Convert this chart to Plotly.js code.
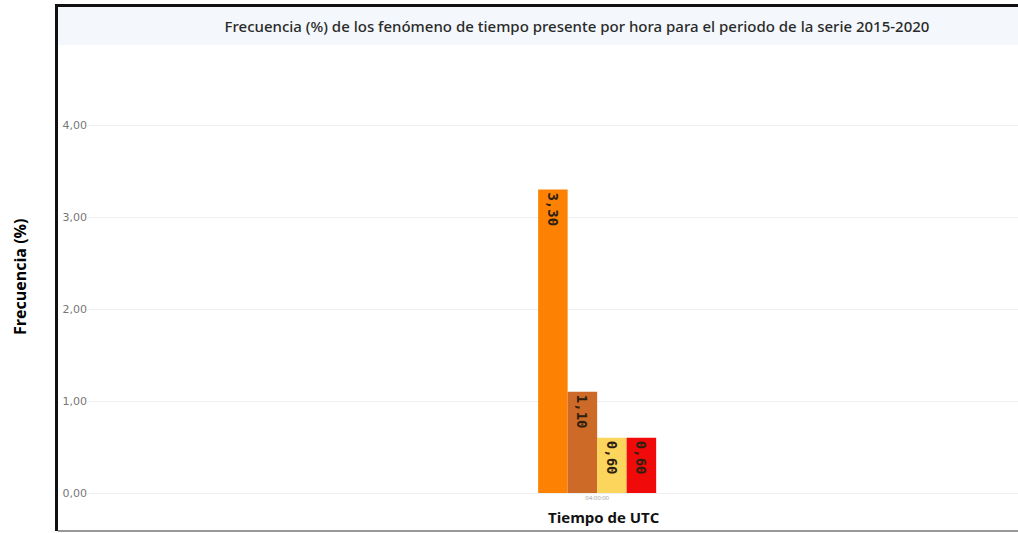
<!DOCTYPE html>
<html>
<head>
<meta charset="utf-8">
<script src="https://cdn.plot.ly/plotly-3.0.1.min.js"></script>
<style>
html,body{margin:0;padding:0;background:#fff;overflow:hidden;}
#chart{width:1018px;height:533px;}
</style>
</head>
<body>
<div id="chart"></div>
<script>
var categories = ["04:00:00"];
var seriesNames = ["Fenómeno 1", "Fenómeno 2", "Fenómeno 3", "Fenómeno 4"];
var seriesValues = [[3.30], [1.10], [0.60], [0.60]];
var seriesColors = ["#fd8204", "#cd6a27", "#fcd65c", "#f00a0a"];
var yTicks = [0, 1, 2, 3, 4];

var traces = seriesNames.map(function(n, i){
  return {
    type: "bar",
    name: n,
    x: categories,
    y: seriesValues[i],
    marker: {color: seriesColors[i]},
    texttemplate: "%{y:.2f}",
    textposition: "inside",
    insidetextanchor: "end",
    textangle: 90,
    insidetextfont: {family: "DejaVu Sans Mono, monospace", size: 14, color: "#2e2010", weight: "bold"},
    hoverinfo: "x+y+name",
    showlegend: false
  };
});

// margins in px
var L = 88, R = 0, T = 51, B = 40, W = 1018, H = 533;
var pw = W - L - R, ph = H - T - B;
function px(x){ return (x - L) / pw; }
function py(y){ return (H - B - y) / ph; }

var layout = {
  width: W, height: H,
  margin: {l: L, r: R, t: T, b: B, pad: 0},
  paper_bgcolor: "#ffffff",
  plot_bgcolor: "rgba(0,0,0,0)",
  separators: ",.",
  barmode: "group",
  bargap: 0.5,
  bargroupgap: 0,
  font: {family: "Open Sans, sans-serif", color: "#555"},
  title: {
    text: "Frecuencia (%) de los fenómeno de tiempo presente por hora para el periodo de la serie 2015-2020",
    font: {family: "Noto Sans, sans-serif", size: 15, color: "#2a2a2a", weight: 500},
    x: px(577), xref: "paper", xanchor: "center",
    y: 1 - 27 / H, yanchor: "middle"
  },
  xaxis: {
    type: "category",
    range: [-2.157, 1.783],
    showgrid: false,
    zeroline: false,
    showline: false,
    ticks: "",
    tickfont: {size: 6, color: "#999"},
    ticklabelstandoff: 0,
    fixedrange: true
  },
  yaxis: {
    range: [0, ph / 92],
    tickvals: yTicks,
    tickformat: ".2f",
    tickfont: {family: "DejaVu Sans, sans-serif", size: 11, color: "#777"},
    showgrid: true,
    gridcolor: "#efefef",
    gridwidth: 1,
    zeroline: true,
    zerolinecolor: "#efefef",
    ticks: "",
    showline: false,
    fixedrange: true
  },
  shapes: [
    {type: "rect", xref: "paper", yref: "paper", x0: px(58), x1: px(1018), y0: py(45), y1: py(7),
     fillcolor: "#f4f8fc", line: {width: 0}, layer: "below"},
    {type: "line", xref: "paper", yref: "paper", x0: px(56.5), x1: px(56.5), y0: py(531), y1: py(4),
     line: {color: "#111", width: 3}},
    {type: "line", xref: "paper", yref: "paper", x0: px(55), x1: px(1018), y0: py(5.5), y1: py(5.5),
     line: {color: "#111", width: 3}},
    {type: "line", xref: "paper", yref: "paper", x0: px(58), x1: px(1018), y0: py(531), y1: py(531),
     line: {color: "#999", width: 2}}
  ],
  annotations: [
    {text: "Frecuencia (%)", xref: "paper", yref: "paper", x: px(20), y: py(277),
     xanchor: "center", yanchor: "middle", textangle: -90, showarrow: false,
     font: {family: "Open Sans, sans-serif", size: 16, color: "#000", weight: "bold"}},
    {text: "Tiempo de UTC", xref: "paper", yref: "paper", x: px(604), y: py(517),
     xanchor: "center", yanchor: "middle", showarrow: false,
     font: {family: "Open Sans, sans-serif", size: 15, color: "#111", weight: "bold"}}
  ]
};

Plotly.newPlot("chart", traces, layout, {displayModeBar: false, staticPlot: true});
</script>
</body>
</html>
